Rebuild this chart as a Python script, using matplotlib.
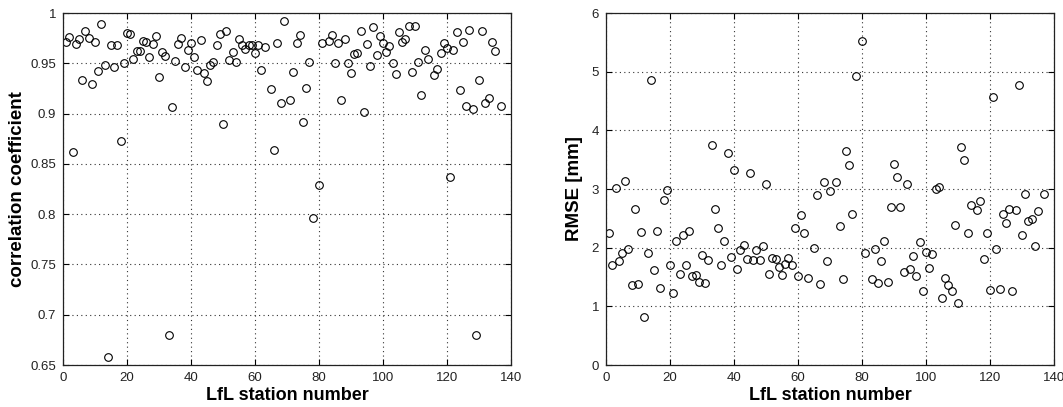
import matplotlib
matplotlib.use("Agg")
import matplotlib.pyplot as plt

# correlation coefficient per LfL station (left panel)
corr_stations = [1, 2, 3, 4, 5, 6, 7, 8, 9, 10, 11, 12, 13, 14, 15, 16, 17, 18, 19, 20,
                 21, 22, 23, 24, 25, 26, 27, 28, 29, 30, 31, 32, 33, 34, 35, 36, 37, 38, 39, 40,
                 41, 42, 43, 44, 45, 46, 47, 48, 49, 50, 51, 52, 53, 54, 55, 56, 57, 58, 59, 60,
                 61, 62, 63, 65, 66, 67, 68, 69, 71, 72, 73, 74, 75, 76, 77, 78, 80, 81, 83, 84,
                 85, 86, 87, 88, 89, 90, 91, 92, 93, 94, 95, 96, 97, 98, 99, 100, 101, 102, 103, 104,
                 105, 106, 107, 108, 109, 110, 111, 112, 113, 114, 116, 117, 118, 119, 120, 121, 122, 123, 124, 125,
                 126, 127, 128, 129, 130, 131, 132, 133, 134, 135, 137]
corr_values = [0.971, 0.976, 0.862, 0.969, 0.974, 0.933, 0.982, 0.975, 0.929, 0.971,
               0.942, 0.989, 0.948, 0.658, 0.968, 0.946, 0.968, 0.873, 0.950, 0.980,
               0.979, 0.954, 0.962, 0.962, 0.972, 0.971, 0.956, 0.969, 0.977, 0.936,
               0.961, 0.957, 0.680, 0.907, 0.952, 0.969, 0.975, 0.946, 0.963, 0.970,
               0.956, 0.943, 0.973, 0.940, 0.932, 0.948, 0.951, 0.968, 0.979, 0.890,
               0.982, 0.953, 0.961, 0.951, 0.974, 0.968, 0.964, 0.968, 0.968, 0.960,
               0.968, 0.943, 0.966, 0.924, 0.864, 0.970, 0.911, 0.992, 0.913, 0.941,
               0.970, 0.978, 0.892, 0.925, 0.951, 0.796, 0.829, 0.970, 0.972, 0.978,
               0.950, 0.970, 0.913, 0.974, 0.950, 0.940, 0.959, 0.960, 0.982, 0.902,
               0.969, 0.947, 0.986, 0.958, 0.977, 0.970, 0.961, 0.967, 0.950, 0.939,
               0.981, 0.971, 0.974, 0.987, 0.941, 0.987, 0.951, 0.918, 0.963, 0.954,
               0.938, 0.944, 0.960, 0.970, 0.965, 0.837, 0.963, 0.981, 0.923, 0.971,
               0.908, 0.983, 0.905, 0.680, 0.933, 0.982, 0.911, 0.915, 0.971, 0.962,
               0.908]

# RMSE per LfL station (right panel)
rmse_stations = [1, 2, 3, 4, 5, 6, 7, 8, 9, 10, 11, 12, 13, 14, 15, 16, 17, 18, 19, 20,
                 21, 22, 23, 24, 25, 26, 27, 28, 29, 30, 31, 32, 33, 34, 35, 36, 37, 38, 39, 40,
                 41, 42, 43, 44, 45, 46, 47, 48, 49, 50, 51, 52, 53, 54, 55, 56, 57, 58, 59, 60,
                 61, 62, 63, 65, 66, 67, 68, 69, 70, 72, 73, 74, 75, 76, 77, 78, 80, 81, 83, 84,
                 85, 86, 87, 88, 89, 90, 91, 92, 93, 94, 95, 96, 97, 98, 99, 100, 101, 102, 103, 104,
                 105, 106, 107, 108, 109, 110, 111, 112, 113, 114, 116, 117, 118, 119, 120, 121, 122, 123, 124, 125,
                 126, 127, 128, 129, 130, 131, 132, 133, 134, 135, 137]
rmse_values = [2.25, 1.71, 3.02, 1.77, 1.91, 3.13, 1.98, 1.37, 2.66, 1.38,
               2.26, 0.82, 1.91, 4.86, 1.62, 2.28, 1.31, 2.82, 2.99, 1.70,
               1.22, 2.11, 1.55, 2.22, 1.71, 2.28, 1.52, 1.54, 1.42, 1.88,
               1.40, 1.79, 3.75, 2.66, 2.33, 1.70, 2.12, 3.62, 1.84, 3.33,
               1.63, 1.96, 2.05, 1.80, 3.28, 1.79, 1.96, 1.79, 2.03, 3.08,
               1.55, 1.83, 1.80, 1.67, 1.54, 1.72, 1.82, 1.71, 2.33, 1.51,
               2.55, 2.25, 1.49, 2.00, 2.90, 1.38, 3.12, 1.77, 2.96, 3.12,
               2.37, 1.47, 3.64, 3.41, 2.58, 4.92, 5.52, 1.91, 1.46, 1.97,
               1.40, 1.78, 2.11, 1.42, 2.69, 3.43, 3.20, 2.69, 1.58, 3.09,
               1.64, 1.85, 1.51, 2.09, 1.26, 1.92, 1.65, 1.89, 3.00, 3.03,
               1.14, 1.49, 1.36, 1.26, 2.39, 1.05, 3.71, 3.49, 2.25, 2.72,
               2.65, 2.79, 1.80, 2.25, 1.27, 4.57, 1.97, 1.30, 2.58, 2.42,
               2.66, 1.26, 2.65, 4.78, 2.22, 2.92, 2.46, 2.49, 2.02, 2.63,
               2.92]

x_ticks = [0, 20, 40, 60, 80, 100, 120, 140]
corr_ticks = [0.65, 0.7, 0.75, 0.8, 0.85, 0.9, 0.95, 1.0]
corr_tick_labels = ['0.65', '0.7', '0.75', '0.8', '0.85', '0.9', '0.95', '1']
rmse_ticks = [0, 1, 2, 3, 4, 5, 6]

plt.rcParams['font.family'] = ['Liberation Sans', 'DejaVu Sans']

fig = plt.figure(figsize=(10.63, 4.07), dpi=100)
axLeft = fig.add_axes([63 / 1063, 42 / 407, 448 / 1063, 352 / 407])
axRight = fig.add_axes([606 / 1063, 42 / 407, 448 / 1063, 352 / 407])


def StyleAxis(ax, yticks, ylim, ylabel, yticklabels=None, ylabelpad=4):
    ax.set_xlim(0, 140)
    ax.set_ylim(*ylim)
    ax.set_xticks(x_ticks)
    ax.set_yticks(yticks)
    if yticklabels is not None:
        ax.set_yticklabels(yticklabels)
    ax.grid(True, linestyle=(0, (1, 3)), color='#333333', linewidth=0.8)
    ax.set_axisbelow(True)
    ax.tick_params(direction='in', top=True, right=True, length=4, width=0.8,
                   labelsize=9.5, labelcolor='#222222', pad=5)
    for spine in ax.spines.values():
        spine.set_linewidth(0.9)
        spine.set_color('#222222')
    ax.set_xlabel('LfL station number', fontsize=13, fontweight='bold', labelpad=2)
    ax.set_ylabel(ylabel, fontsize=13.5, fontweight='bold', labelpad=ylabelpad)


axLeft.plot(corr_stations, corr_values, 'o', markersize=5.5, markerfacecolor='none',
            markeredgecolor='black', markeredgewidth=0.8)
StyleAxis(axLeft, corr_ticks, (0.65, 1.0), 'correlation coefficient', corr_tick_labels, ylabelpad=3)

axRight.plot(rmse_stations, rmse_values, 'o', markersize=5.5, markerfacecolor='none',
             markeredgecolor='black', markeredgewidth=0.8)
StyleAxis(axRight, rmse_ticks, (0, 6), 'RMSE [mm]', ylabelpad=6)

fig.savefig('out.png', dpi=100)
